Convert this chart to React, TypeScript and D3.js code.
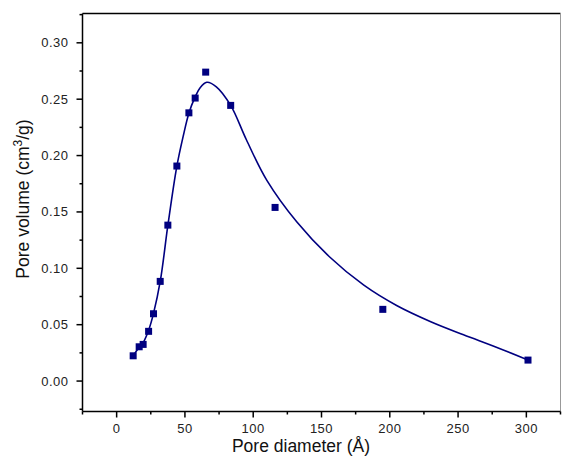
import React from "react";
import * as d3 from "d3";

const pointX = [12.1, 16.5, 19.4, 23.4, 27.0, 31.9, 37.5, 44.1, 52.9, 57.5, 65.2, 83.5, 116, 194.9, 301.2];
const pointY = [0.0224, 0.0304, 0.0325, 0.0441, 0.0597, 0.0884, 0.1383, 0.1907, 0.2379, 0.251, 0.274, 0.2445, 0.154, 0.0636, 0.0186];

const curveX = [12.1, 16.5, 19.4, 23.4, 27, 32, 37.5, 44, 48.7, 53, 57.5, 61, 66, 73, 83.5, 95, 110, 132, 156, 181, 205, 230, 254, 278, 301.2];
const curveY = [0.0224, 0.030, 0.034, 0.045, 0.060, 0.089, 0.138, 0.190, 0.217, 0.238, 0.252, 0.260, 0.265, 0.261, 0.2445, 0.214, 0.178, 0.141, 0.110, 0.085, 0.067, 0.0526, 0.041, 0.030, 0.0186];

const xMajor = [0, 50, 100, 150, 200, 250, 300];
const xMinor = [-25, 25, 75, 125, 175, 225, 275, 325];
const yMajor = [0, 0.05, 0.1, 0.15, 0.2, 0.25, 0.3];
const yMinor = [-0.025, 0.025, 0.075, 0.125, 0.175, 0.225, 0.275, 0.325];

const W = 562, H = 457;
const left = 82.5, right = 560.5, top = 13.5, bottom = 411.5;

export default function App() {
  const x = d3.scaleLinear().domain([-25, 325]).range([left, right]);
  const y = d3.scaleLinear().domain([-0.027, 0.326]).range([bottom, top]);
  const line = d3.line<number>().x((d, i) => x(curveX[i])).y((d, i) => y(curveY[i])).curve(d3.curveCatmullRom.alpha(0.5));
  const navy = "#000080";
  const font = "'Liberation Sans', Arial, sans-serif";
  return (
    <svg width={W} height={H} style={{ position: "absolute", left: 0, top: 0, background: "#fff" }} fontFamily={font}>
      <rect x={0} y={0} width={W} height={H} fill="#fff" />
      {/* frame */}
      <line x1={left} x2={right} y1={top} y2={top} stroke="#000" strokeWidth={1.5} />
      <line x1={right} x2={right} y1={top} y2={bottom} stroke="#999" strokeWidth={1} />
      <line x1={left} x2={right} y1={bottom} y2={bottom} stroke="#000" strokeWidth={1.5} />
      <line x1={left} x2={left} y1={top} y2={bottom} stroke="#000" strokeWidth={1.5} />
      {/* y ticks */}
      {yMajor.map((v) => (
        <g key={"ym" + v}>
          <line x1={left - 6} x2={left} y1={y(v)} y2={y(v)} stroke="#000" strokeWidth={1.5} />
          <text x={left - 14} y={y(v)} dy="0.35em" textAnchor="end" fontSize={13} fill="#222" letterSpacing={0.5}>
            {v.toFixed(2)}
          </text>
        </g>
      ))}
      {yMinor.map((v) => (
        <line key={"yn" + v} x1={left - 3} x2={left} y1={y(v)} y2={y(v)} stroke="#000" strokeWidth={1.5} />
      ))}
      {/* x ticks */}
      {xMajor.map((v) => (
        <g key={"xm" + v}>
          <line x1={x(v)} x2={x(v)} y1={bottom} y2={bottom + 6} stroke="#000" strokeWidth={1.5} />
          <text x={x(v)} y={433} textAnchor="middle" fontSize={13} fill="#222" letterSpacing={0.5}>
            {v}
          </text>
        </g>
      ))}
      {xMinor.map((v) => (
        <line key={"xn" + v} x1={x(v)} x2={x(v)} y1={bottom} y2={bottom + 3} stroke="#000" strokeWidth={1.5} />
      ))}
      {/* labels */}
      <text x={301} y={452} textAnchor="middle" fontSize={17.5} fill="#111">
        Pore diameter (Å)
      </text>
      <text transform="translate(29,199) rotate(-90)" textAnchor="middle" fontSize={17.5} fill="#111">
        Pore volume (cm<tspan dy={-7} fontSize={12}>3</tspan><tspan dy={7}>/g)</tspan>
      </text>
      {/* curve */}
      <path d={line(curveY) || ""} fill="none" stroke={navy} strokeWidth={1.6} />
      {/* points */}
      {pointX.map((v, i) => (
        <rect key={"p" + i} x={x(v) - 3.5} y={y(pointY[i]) - 3.5} width={7} height={7} fill={navy} />
      ))}
    </svg>
  );
}
